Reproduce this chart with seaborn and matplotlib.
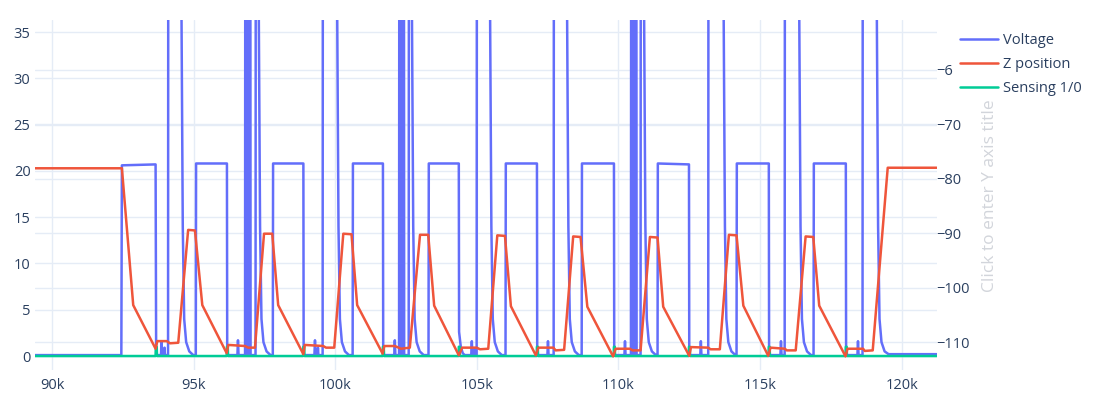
import matplotlib
matplotlib.use("Agg")
import matplotlib.pyplot as plt
import matplotlib.transforms as mtransforms
import seaborn as sns

# --- data ---
voltage_x = [
    89380, 92440, 92460, 93650, 93670, 93840, 93860, 93880, 93950, 93965, 93980,
    94090, 94100, 94520, 94610, 94660, 94730, 94840, 94980,
    95070, 95080, 96170, 96180, 96540, 96560, 96580,
    96810, 96820, 96845, 96855, 96885, 96895, 96920, 96930, 96960, 96970, 96995, 97005,
    97180, 97190, 97250, 97340, 97390, 97460, 97570, 97710,
    97790, 97800, 98870, 98880, 99260, 99280, 99300, 99370, 99385, 99400,
    99550, 99560, 100020, 100110, 100160, 100230, 100340, 100480,
    100610, 100620, 101680, 101690, 102080, 102100, 102120,
    102250, 102260, 102285, 102295, 102320, 102330, 102355, 102365, 102390, 102400, 102420, 102430,
    102590, 102600, 102660, 102750, 102800, 102870, 102980, 103120,
    103290, 103300, 104360, 104370, 104430, 104500, 104570,
    104800, 104820, 104840, 104910, 104925, 104940,
    104990, 105000, 105420, 105510, 105560, 105630, 105740, 105880,
    106010, 106020, 107120, 107130, 107490, 107510, 107530,
    107710, 107720, 108140, 108230, 108280, 108350, 108460, 108600,
    108700, 108710, 109840, 109850, 110210, 110230, 110250,
    110440, 110450, 110475, 110485, 110510, 110520, 110545, 110555, 110580, 110590, 110630, 110640,
    110780, 110790, 110860, 110950, 111000, 111070, 111180, 111320,
    111380, 111390, 112490, 112500, 112890, 112910, 112930,
    113170, 113180, 113670, 113760, 113810, 113880, 113990, 114130,
    114170, 114180, 115310, 115320, 115720, 115740, 115760,
    115870, 115880, 116340, 116430, 116480, 116550, 116660, 116800,
    116890, 116900, 118030, 118040, 118440, 118460, 118480,
    118620, 118630, 119080, 119170, 119220, 119290, 119400, 119540, 121240,
]
voltage_y = [
    0.1, 0.1, 20.6, 20.7, 0.1, 0.1, 1.6, 0.1, 0.1, 0.9, 0.1,
    0.1, 60, 60, 14, 4, 1.5, 0.5, 0.1,
    0.1, 20.8, 20.8, 0.1, 0.1, 1.7, 0.1,
    0.1, 60, 60, 0.1, 0.1, 60, 60, 0.1, 0.1, 60, 60, 0.1,
    0.1, 60, 60, 14, 4, 1.5, 0.5, 0.1,
    0.1, 20.8, 20.8, 0.1, 0.1, 1.7, 0.1, 0.1, 0.9, 0.1,
    0.1, 60, 60, 14, 4, 1.5, 0.5, 0.1,
    0.1, 20.8, 20.8, 0.1, 0.1, 1.7, 0.1,
    0.1, 60, 60, 0.1, 0.1, 60, 60, 0.1, 0.1, 60, 60, 0.1,
    0.1, 60, 60, 14, 4, 1.5, 0.5, 0.1,
    0.1, 20.8, 20.8, 2.6, 1.0, 0.3, 0.1,
    0.1, 1.6, 0.1, 0.1, 0.8, 0.1,
    0.1, 60, 60, 14, 4, 1.5, 0.5, 0.1,
    0.1, 20.8, 20.8, 0.1, 0.1, 1.6, 0.1,
    0.1, 60, 60, 14, 4, 1.5, 0.5, 0.1,
    0.1, 20.8, 20.8, 0.1, 0.1, 1.6, 0.1,
    0.1, 60, 60, 0.1, 0.1, 60, 60, 0.1, 0.1, 60, 60, 0.1,
    0.1, 60, 60, 14, 4, 1.5, 0.5, 0.1,
    0.1, 20.8, 20.7, 0.1, 0.1, 1.6, 0.1,
    0.1, 60, 60, 14, 4, 1.5, 0.5, 0.1,
    0.1, 20.8, 20.8, 0.1, 0.1, 1.6, 0.1,
    0.1, 60, 60, 14, 4, 1.5, 0.5, 0.1,
    0.1, 20.8, 20.8, 0.1, 0.1, 1.6, 0.1,
    0.1, 60, 60, 14, 4, 1.5, 0.5, 0.2, 0.2,
]

z_x = [
    89380, 92460, 92860, 93650, 93710, 94040, 94160, 94450, 94800, 95040,
    95300, 96160, 96220, 96810, 96920, 97160, 97480, 97770,
    97980, 98870, 98920, 99570, 99670, 99960, 100280, 100570,
    100770, 101670, 101730, 102100, 102320, 102630, 102990, 103280,
    103490, 104360, 104480, 104990, 105110, 105400, 105720, 105990,
    106200, 107080, 107170, 107700, 107780, 108080, 108400, 108660,
    108900, 109810, 109900, 110400, 110500, 110780, 111110, 111380,
    111580, 112500, 112560, 113170, 113250, 113580, 113900, 114170,
    114410, 115290, 115370, 115880, 115940, 116260, 116610, 116880,
    117090, 118020, 118090, 118640, 118700, 118980, 119510, 121240,
]
z_y = [
    -78.1, -78.1, -103.2, -111.2, -109.8, -109.8, -110.2, -110.1, -89.4, -89.5,
    -103.2, -112.0, -110.5, -110.7, -111.0, -111.0, -90.1, -90.1,
    -103.2, -112.2, -110.5, -110.7, -111.0, -111.0, -90.1, -90.2,
    -103.2, -112.1, -110.7, -110.7, -111.2, -111.0, -90.3, -90.3,
    -103.3, -112.4, -111.0, -111.0, -111.3, -111.2, -90.4, -90.5,
    -103.4, -112.4, -111.0, -111.0, -111.5, -111.4, -90.6, -90.7,
    -103.5, -112.6, -111.2, -111.2, -111.5, -111.5, -90.7, -90.8,
    -103.5, -112.5, -110.9, -111.0, -111.3, -111.3, -90.3, -90.4,
    -103.3, -112.5, -111.0, -111.2, -111.5, -111.5, -90.6, -90.7,
    -103.3, -112.6, -111.2, -111.2, -111.6, -111.5, -78.0, -78.0,
]

sensing_x = [
    89380,
    93650, 93660, 93690, 93700,
    96160, 96170, 96200, 96210,
    98860, 98870, 98900, 98910,
    101670, 101680, 101710, 101720,
    104350, 104360, 104390, 104400,
    107110, 107120, 107150, 107160,
    109830, 109840, 109870, 109880,
    112480, 112490, 112520, 112530,
    115300, 115310, 115340, 115350,
    118020, 118030, 118060, 118070,
    121240,
]
sensing_y = [0] + [0, 1, 1, 0] * 10 + [0]

x_ticks = [90000, 95000, 100000, 105000, 110000, 115000, 120000]
x_tick_labels = ["90k", "95k", "100k", "105k", "110k", "115k", "120k"]
left_ticks = [0, 5, 10, 15, 20, 25, 30, 35]
right_ticks = [-110, -100, -90, -80, -70, -60]

# --- style ---
sns.set_theme(style="white")
plt.rcParams["font.family"] = ["Open Sans", "DejaVu Sans"]

BLUE, RED, GREEN = "#636efa", "#EF553B", "#00cc96"
GRID = "#E5ECF6"
TEXT = "#2a3f5f"
FS = 10.5
LW = 1.8

W, H = 1098, 399
fig = plt.figure(figsize=(W / 100, H / 100), dpi=100)
fig.patch.set_facecolor("white")
left, right, top, bottom = 34.7, 936.7, 20, 370
ax = fig.add_axes([left / W, 1 - bottom / H, (right - left) / W, (bottom - top) / H])
ax2 = ax.twinx()

sns.lineplot(x=voltage_x, y=voltage_y, estimator=None, sort=False, color=BLUE,
             linewidth=LW, label="Voltage", legend=False, ax=ax)
sns.lineplot(x=sensing_x, y=sensing_y, estimator=None, sort=False, color=GREEN,
             linewidth=LW, label="Sensing 1/0", legend=False, ax=ax)
sns.lineplot(x=z_x, y=z_y, estimator=None, sort=False, color=RED,
             linewidth=LW, label="Z position", legend=False, ax=ax2)

ax.set_xlim(89380, 121240)
ax.set_ylim(-1.51, 36.3)
ax2.set_ylim(-115.1, -50.9)

ax.set_xticks(x_ticks)
ax.set_xticklabels(x_tick_labels)
ax.set_yticks(left_ticks)
ax2.set_yticks(right_ticks)

# grid: left-axis and x grid, plus right-axis grid drawn underneath the traces
ax.grid(True, color=GRID, linewidth=1.0, zorder=0)
ax.set_axisbelow(True)
ax2.grid(False)
blend = mtransforms.blended_transform_factory(ax.transAxes, ax2.transData)
for v in right_ticks:
    ax.plot([0, 1], [v, v], transform=blend, color=GRID, linewidth=1.0, zorder=0.5)

for a in (ax, ax2):
    for s in a.spines.values():
        s.set_visible(False)
    a.tick_params(length=0, labelsize=FS, labelcolor=TEXT)
    a.set_xlabel("")
    a.set_ylabel("")
ax.tick_params(axis="y", pad=3)
ax.tick_params(axis="x", pad=6)
ax2.tick_params(axis="y", pad=0)
ax.patch.set_alpha(0)

fig.text(990 / W, 1 - 196 / H, "Click to enter Y axis title", rotation=90,
         ha="center", va="center", color="#d2d5db", fontsize=12.5, zorder=10)

# legend sits on a white box that hides the end of the top right tick label
handles = [ax.lines[0], ax2.lines[0], ax.lines[1]]
labels = ["Voltage", "Z position", "Sensing 1/0"]
fig.legend(handles, labels, loc="upper left", bbox_to_anchor=(953 / W, 1 - 26 / H),
           frameon=True, facecolor="white", edgecolor="none", fancybox=False,
           framealpha=1, borderaxespad=0, borderpad=0.5, handlelength=2.6,
           handletextpad=0.35, labelspacing=0.62, fontsize=FS, labelcolor=TEXT)

fig.savefig("out.png", dpi=100)
